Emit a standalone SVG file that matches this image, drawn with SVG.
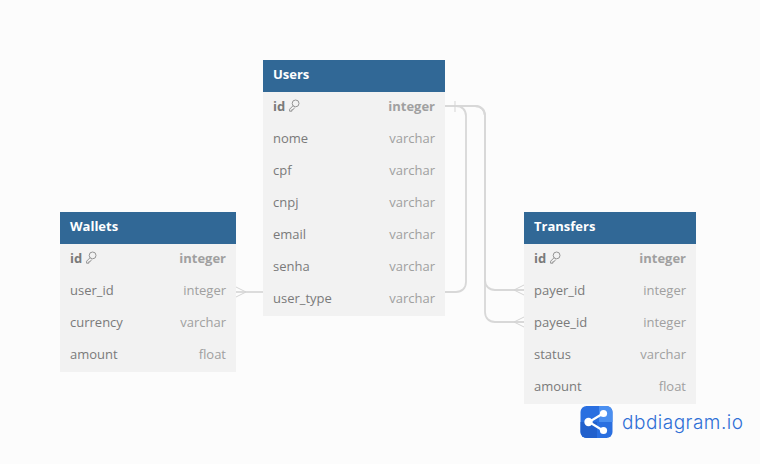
<svg xmlns="http://www.w3.org/2000/svg" width="760" height="464" viewBox="0 0 760 464">
<style>
text{font-family:"Open Sans","Noto Sans",sans-serif;font-size:13px}
.bg{fill:#f2f2f2}.hd{fill:#316896}
.t{fill:#fff;font-weight:700}
.n{fill:#7a7a7a}.r{fill:#a0a0a0;text-anchor:end}
.b{font-weight:700}
.c{fill:none;stroke:#d8d8d8;stroke-width:1.800}
.m{fill:none;stroke:#d5d5d5;stroke-width:1}
.k{fill:none;stroke:#8a8a8a;stroke-width:.9}
</style>
<defs>
<g id="key"><circle cx="6.600" cy="-6.600" r="3.400" class="k"/><path class="k" d="M4.200-4.400 0.600-0.800V1.200H2.800V-.2H4L5.600-2.400"/></g>
</defs>
<rect width="760" height="464" fill="#fcfcfc"/>
<g id="connectors">
<path class="c" d="M445 106H456C462 106 466 110 466 116V282C466 288 462 292 456 292H445"/>
<path class="c" d="M445 106H475C481 106 485 110 485 116V280C485 286 489 290 495 290H524"/>
<path class="c" d="M475 106C481 106 485 110 485 116V312C485 318 489 322 495 322H524"/>
<path class="c" d="M236 292H263"/>
<path class="m" d="M455 101V112"/>
<path class="m" d="M514 290 524 285M514 290 524 295M514 322 524 317M514 322 524 327M246 292 236 287M246 292 236 297"/>
</g>
<g id="users">
<rect class="bg" x="263" y="92" width="182" height="224"/><rect class="hd" x="263" y="60" width="182" height="32"/>
<text class="t" x="273" y="79">Users</text>
<text class="n b" x="273" y="111">id</text><use href="#key" x="289" y="110"/><text class="r b" x="435" y="111">integer</text>
<text class="n" x="273" y="143">nome</text><text class="r" x="435" y="143">varchar</text>
<text class="n" x="273" y="175">cpf</text><text class="r" x="435" y="175">varchar</text>
<text class="n" x="273" y="207">cnpj</text><text class="r" x="435" y="207">varchar</text>
<text class="n" x="273" y="239">email</text><text class="r" x="435" y="239">varchar</text>
<text class="n" x="273" y="271">senha</text><text class="r" x="435" y="271">varchar</text>
<text class="n" x="273" y="303">user_type</text><text class="r" x="435" y="303">varchar</text>
</g>
<g id="wallets">
<rect class="bg" x="60" y="244" width="176" height="128"/><rect class="hd" x="60" y="212" width="176" height="32"/>
<text class="t" x="70" y="231">Wallets</text>
<text class="n b" x="70" y="263">id</text><use href="#key" x="86" y="262"/><text class="r b" x="226" y="263">integer</text>
<text class="n" x="70" y="295">user_id</text><text class="r" x="226" y="295">integer</text>
<text class="n" x="70" y="327">currency</text><text class="r" x="226" y="327">varchar</text>
<text class="n" x="70" y="359">amount</text><text class="r" x="226" y="359">float</text>
</g>
<g id="transfers">
<rect class="bg" x="524" y="244" width="172" height="160"/><rect class="hd" x="524" y="212" width="172" height="32"/>
<text class="t" x="534" y="231">Transfers</text>
<text class="n b" x="534" y="263">id</text><use href="#key" x="550" y="262"/><text class="r b" x="686" y="263">integer</text>
<text class="n" x="534" y="295">payer_id</text><text class="r" x="686" y="295">integer</text>
<text class="n" x="534" y="327">payee_id</text><text class="r" x="686" y="327">integer</text>
<text class="n" x="534" y="359">status</text><text class="r" x="686" y="359">varchar</text>
<text class="n" x="534" y="391">amount</text><text class="r" x="686" y="391">float</text>
</g>
<g id="logo">
<rect x="580.500" y="406" width="32" height="32" rx="6" fill="#2a6fe0"/>
<path d="M599 406H606.500A6 6 0 0 1 612.500 412V422H599Z" fill="#4a8ff0"/>
<path d="M580.500 422V432A6 6 0 0 0 586.500 438H597V422Z" fill="#2260cc"/>
<path d="M603 413.500 589 422 603 430.500" fill="none" stroke="#fff" stroke-width="2.200"/>
<circle cx="603.500" cy="413.500" r="3.600" fill="#fff"/><circle cx="603.500" cy="430.500" r="3.600" fill="#fff"/><circle cx="588.500" cy="422" r="4.200" fill="#fff"/>
<text x="622" y="429" textLength="121" style="font-size:19px;font-weight:300;font-family:'Inter','Noto Sans',sans-serif" fill="#2f6fd6">dbdiagram.io</text>
</g>
</svg>
